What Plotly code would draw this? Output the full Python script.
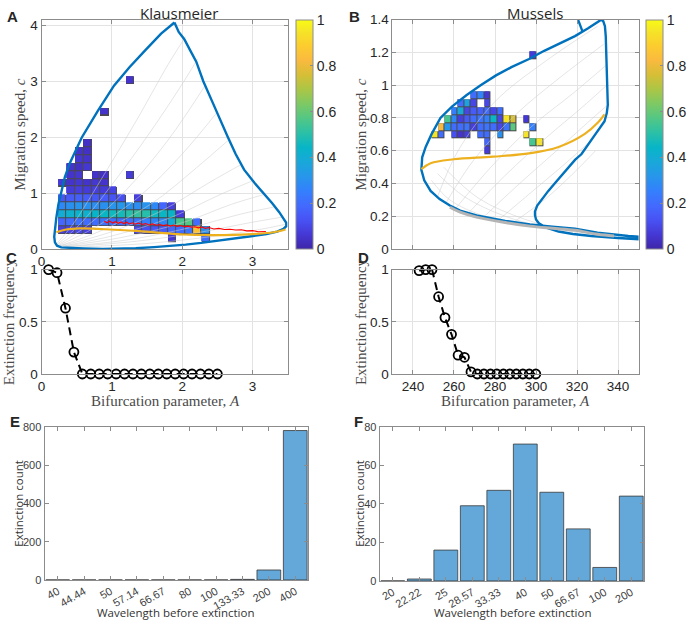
import plotly.graph_objects as go

W, H = 691, 627

# ---------------- colormap (parula-like) ----------------
parula = [
    [0.000, "rgb(62,38,168)"], [0.063, "rgb(69,56,212)"], [0.127, "rgb(72,82,244)"],
    [0.190, "rgb(67,106,254)"], [0.254, "rgb(51,128,253)"], [0.317, "rgb(39,150,235)"],
    [0.381, "rgb(25,168,217)"], [0.444, "rgb(7,181,199)"], [0.508, "rgb(44,192,166)"],
    [0.571, "rgb(83,199,133)"], [0.635, "rgb(126,201,99)"], [0.698, "rgb(172,198,70)"],
    [0.762, "rgb(215,190,54)"], [0.825, "rgb(250,186,63)"], [0.889, "rgb(252,205,46)"],
    [0.952, "rgb(245,229,39)"], [1.000, "rgb(249,251,21)"],
]

# ---------------- Panel A (Klausmeier) ----------------
A_cell_x = [0.295, 0.415, 0.535, 0.655, 0.775, 0.895, 1.015, 1.135, 1.255, 1.375,
            1.495, 1.615, 1.735, 1.855, 1.975, 2.095, 2.215, 2.335]
A_cell_c = [0.199, 0.340, 0.481, 0.622, 0.763, 0.904, 1.045, 1.186, 1.327, 1.468,
            1.609, 1.750, 1.891, 2.032, 2.173, 2.314, 2.455, 2.596, 2.737, 2.878, 3.019]
# (column index, row index, extinction fraction)
A_cells = [
    (8, 20, 0.05), (5, 16, 0.05), (3, 12, 0.04),
    (2, 11, 0.05), (3, 11, 0.04), (2, 10, 0.06), (3, 10, 0.05),
    (1, 9, 0.05), (2, 9, 0.04), (3, 9, 0.06),
    (1, 8, 0.05), (2, 8, 0.06), (4, 8, 0.05), (5, 8, 0.04), (8, 8, 0.07),
    (0, 7, 0.07), (1, 7, 0.05), (2, 7, 0.06), (3, 7, 0.05), (4, 7, 0.06), (5, 7, 0.05),
    (1, 6, 0.07), (2, 6, 0.08), (3, 6, 0.07), (4, 6, 0.08), (5, 6, 0.07), (6, 6, 0.09),
    (0, 5, 0.14), (1, 5, 0.15), (2, 5, 0.16), (3, 5, 0.15), (4, 5, 0.14), (5, 5, 0.15),
    (6, 5, 0.13), (7, 5, 0.12), (9, 5, 0.08),
    (0, 4, 0.28), (1, 4, 0.30), (2, 4, 0.31), (3, 4, 0.30), (4, 4, 0.29), (5, 4, 0.30),
    (6, 4, 0.31), (7, 4, 0.32), (8, 4, 0.30), (9, 4, 0.29), (10, 4, 0.31), (11, 4, 0.28),
    (12, 4, 0.18), (13, 4, 0.08),
    (0, 3, 0.40), (1, 3, 0.42), (2, 3, 0.43), (3, 3, 0.42), (4, 3, 0.44), (5, 3, 0.45),
    (6, 3, 0.46), (7, 3, 0.47), (8, 3, 0.50), (9, 3, 0.52), (10, 3, 0.50), (11, 3, 0.46),
    (12, 3, 0.45), (13, 3, 0.44), (14, 3, 0.07),
    (0, 2, 0.18), (1, 2, 0.20), (2, 2, 0.21), (3, 2, 0.20), (4, 2, 0.20), (5, 2, 0.22),
    (6, 2, 0.21), (7, 2, 0.20), (8, 2, 0.22), (9, 2, 0.23), (10, 2, 0.25), (11, 2, 0.27),
    (12, 2, 0.28), (13, 2, 0.40), (14, 2, 0.55), (15, 2, 0.57), (16, 2, 0.20),
    (0, 1, 0.08), (1, 1, 0.09), (2, 1, 0.10), (3, 1, 0.08),
    (9, 1, 0.10), (10, 1, 0.12), (11, 1, 0.14), (12, 1, 0.15), (13, 1, 0.18),
    (14, 1, 0.20), (15, 1, 0.22), (16, 1, 0.85), (17, 1, 0.30),
    (13, 0, 0.06), (17, 0, 0.20),
]

A_blue_x = [1.89, 1.70, 1.48, 1.25, 1.03, 0.80, 0.57, 0.48, 0.40, 0.33, 0.28, 0.24, 0.21,
            0.19, 0.18, 0.19, 0.22, 0.28, 0.40, 0.60, 0.87, 1.10, 1.34, 1.60, 1.80, 2.05,
            2.27, 2.60, 2.98, 3.20, 3.35, 3.44, 3.48, 3.48, 3.44, 3.38, 3.28, 3.17, 3.03,
            2.88, 2.76, 2.65, 2.54, 2.44, 2.30, 2.20, 2.11, 2.03, 1.95, 1.92, 1.89]
A_blue_c = [4.05, 3.85, 3.56, 3.25, 2.92, 2.47, 1.99, 1.75, 1.53, 1.28, 1.03, 0.80, 0.56,
            0.35, 0.22, 0.12, 0.06, 0.03, 0.02, 0.01, 0.00, 0.005, 0.015, 0.035, 0.05, 0.08,
            0.11, 0.16, 0.23, 0.27, 0.31, 0.36, 0.41, 0.47, 0.55, 0.66, 0.82, 0.98, 1.18,
            1.42, 1.70, 2.00, 2.30, 2.60, 3.00, 3.35, 3.56, 3.75, 3.88, 3.97, 4.05]

A_orange_x = [0.21, 0.35, 0.54, 0.80, 1.05, 1.34, 1.70, 2.02, 2.40, 2.74, 3.05, 3.30, 3.47]
A_orange_c = [0.30, 0.35, 0.37, 0.36, 0.345, 0.325, 0.29, 0.26, 0.25, 0.255, 0.27, 0.30, 0.35]

A_red_x = [0.89, 0.93, 0.97, 1.01, 1.05, 1.09, 1.13, 1.17, 1.21, 1.25, 1.29, 1.33, 1.38,
           1.43, 1.48, 1.53, 1.58, 1.63, 1.68, 1.73, 1.78, 1.83, 1.88, 1.93, 1.98, 2.03,
           2.08, 2.13, 2.18, 2.23, 2.28, 2.33, 2.38, 2.45, 2.52, 2.60, 2.68, 2.76, 2.84,
           2.92, 3.00, 3.08, 3.19]
A_red_c = [0.50, 0.47, 0.50, 0.465, 0.49, 0.46, 0.485, 0.455, 0.48, 0.45, 0.47, 0.445, 0.465,
           0.44, 0.455, 0.43, 0.45, 0.425, 0.44, 0.42, 0.435, 0.41, 0.43, 0.405, 0.42, 0.40,
           0.41, 0.39, 0.40, 0.38, 0.395, 0.37, 0.385, 0.36, 0.37, 0.35, 0.355, 0.34, 0.345,
           0.325, 0.33, 0.31, 0.315]

# faint constant-wavelength curves
A_gray = [
    ([0.22, 0.45, 0.85, 1.35, 1.80, 2.05], [0.10, 0.45, 1.25, 2.30, 3.30, 3.80]),
    ([0.23, 0.55, 1.00, 1.55, 2.00, 2.22], [0.09, 0.45, 1.15, 2.10, 2.95, 3.40]),
    ([0.24, 0.65, 1.20, 1.80, 2.34], [0.08, 0.42, 1.05, 1.95, 2.95]),
    ([0.25, 0.75, 1.40, 2.00, 2.50], [0.07, 0.38, 0.95, 1.70, 2.45]),
    ([0.26, 0.85, 1.55, 2.20, 2.66], [0.06, 0.33, 0.80, 1.45, 1.95]),
    ([0.27, 0.95, 1.70, 2.40, 2.85], [0.06, 0.29, 0.68, 1.20, 1.52]),
    ([0.28, 1.05, 1.85, 2.55, 3.00], [0.05, 0.25, 0.57, 0.98, 1.22]),
    ([0.30, 1.15, 2.00, 2.70, 3.15], [0.05, 0.21, 0.47, 0.80, 0.97]),
    ([0.32, 1.25, 2.10, 2.85, 3.30], [0.04, 0.17, 0.38, 0.63, 0.75]),
    ([0.35, 1.35, 2.25, 3.00, 3.42], [0.04, 0.14, 0.30, 0.48, 0.57]),
    ([0.40, 1.50, 2.40, 3.10, 3.46], [0.03, 0.10, 0.22, 0.35, 0.44]),
]

# ---------------- Panel B (Mussels) ----------------
B_cell_x = [250.6, 253.8, 257.0, 260.2, 263.4, 266.6, 269.8, 273.0, 276.2, 279.4,
            282.6, 285.8, 289.0, 292.2, 295.4, 298.6, 301.8]
B_cell_c = [0.600, 0.649, 0.697, 0.746, 0.794, 0.843, 0.892, 0.940, 0.989, 1.037,
            1.086, 1.135, 1.183]
B_cells = [
    (15, 12, 0.07),
    (6, 7, 0.20), (7, 7, 0.26), (8, 7, 0.06),
    (4, 6, 0.20), (5, 6, 0.36), (6, 6, 0.10), (8, 6, 0.10),
    (3, 5, 0.25), (4, 5, 0.38), (5, 5, 0.10), (6, 5, 0.15), (7, 5, 0.16), (8, 5, 0.20),
    (9, 5, 0.10), (10, 5, 0.20),
    (2, 4, 0.55), (3, 4, 0.28), (4, 4, 0.08), (5, 4, 0.15), (6, 4, 0.20), (7, 4, 0.22),
    (8, 4, 0.25), (9, 4, 0.45), (10, 4, 0.10), (11, 4, 0.95), (12, 4, 0.76), (14, 4, 0.06),
    (1, 3, 0.82), (2, 3, 0.32), (3, 3, 0.20), (4, 3, 0.20), (5, 3, 0.22), (6, 3, 0.08),
    (7, 3, 0.20), (8, 3, 0.22), (9, 3, 0.20), (10, 3, 0.10), (11, 3, 0.22), (12, 3, 0.58),
    (15, 3, 0.25),
    (0, 2, 0.95), (1, 2, 0.20), (3, 2, 0.12), (4, 2, 0.05), (5, 2, 0.08), (7, 2, 0.20),
    (8, 2, 0.20), (10, 2, 0.30), (14, 2, 0.95),
    (8, 1, 0.18), (15, 1, 0.55), (16, 1, 0.95),
    (8, 0, 0.07),
]

B_blue_x = [356, 345, 330, 319, 308, 297, 285, 271, 263, 258, 253, 248.6, 245.5, 244.1,
            244.5, 246.2, 249, 253.4, 259, 266.2, 273, 280.5, 288, 296.6, 304, 312.6, 319,
            325.4, 329, 331, 331.8, 332.8, 333.6, 334.0, 334.3, 334.7, 335.0, 335.0, 334.5,
            333.4, 330, 326, 322.2, 319, 314, 309.4, 306, 303, 300.6, 299.5, 299.5, 300,
            301.4, 305, 311, 318, 327, 340, 356, None, 319.0, 322.6]
B_blue_c = [0.070, 0.080, 0.100, 0.125, 0.137, 0.150, 0.172, 0.205, 0.235, 0.266, 0.305,
            0.355, 0.42, 0.484, 0.56, 0.623, 0.70, 0.80, 0.87, 0.94, 1.00, 1.06, 1.11, 1.16,
            1.21, 1.26, 1.30, 1.348, 1.375, 1.39, 1.40, 1.39, 1.36, 1.30, 1.18, 1.05, 0.93,
            0.88, 0.83, 0.78, 0.72, 0.65, 0.58, 0.544, 0.475, 0.405, 0.355, 0.306, 0.266,
            0.23, 0.207, 0.18, 0.157, 0.13, 0.107, 0.092, 0.080, 0.068, 0.056, None, 1.45, 1.33]

B_gray_main_x = [258, 263, 271, 285, 297, 308, 319, 330, 338]
B_gray_main_c = [0.255, 0.225, 0.195, 0.162, 0.140, 0.127, 0.115, 0.090, 0.080]

B_orange_x = [244.1, 248.6, 259.8, 279.0, 296.6, 311.0, 323.8, 330.2, 333.4]
B_orange_c = [0.488, 0.524, 0.548, 0.564, 0.584, 0.623, 0.703, 0.772, 0.822]

B_gray = [
    ([252, 262, 280, 305, 330], [0.32, 0.60, 0.90, 1.15, 1.36]),
    ([256, 270, 290, 312, 333], [0.28, 0.55, 0.82, 1.05, 1.25]),
    ([261, 278, 298, 318, 334], [0.25, 0.50, 0.75, 0.95, 1.12]),
    ([267, 285, 305, 322, 334.5], [0.22, 0.45, 0.68, 0.86, 1.00]),
    ([274, 292, 310, 325, 335], [0.19, 0.40, 0.60, 0.77, 0.88]),
    ([281, 298, 315, 328, 334], [0.17, 0.35, 0.53, 0.68, 0.78]),
    ([288, 304, 318, 329], [0.155, 0.30, 0.46, 0.60]),
    ([300, 275, 258, 249], [0.13, 0.20, 0.30, 0.42]),
    ([310, 285, 265, 252], [0.115, 0.20, 0.32, 0.46]),
    ([320, 295, 272, 255], [0.10, 0.18, 0.31, 0.50]),
]

# ---------------- Panel C / D ----------------
C_A = [0.10, 0.22, 0.34, 0.46, 0.58, 0.70, 0.82, 0.94, 1.06, 1.18, 1.30, 1.42, 1.54,
       1.66, 1.78, 1.90, 2.02, 2.14, 2.26, 2.38, 2.50]
C_freq = [1.0, 0.97, 0.63, 0.21, 0, 0, 0, 0, 0, 0, 0, 0, 0, 0, 0, 0, 0, 0, 0, 0, 0]

D_A = [243.0, 246.2, 249.3, 252.5, 255.6, 258.8, 262.0, 265.1, 268.3, 271.4, 274.6,
       277.8, 280.9, 284.1, 287.2, 290.4, 293.6, 296.7, 299.9]
D_freq = [0.99, 1.0, 1.0, 0.74, 0.54, 0.38, 0.18, 0.16, 0.02, 0, 0, 0, 0, 0, 0, 0, 0, 0, 0]

# ---------------- Panel E / F ----------------
E_cats = ["40", "44.44", "50", "57.14", "66.67", "80", "100", "133.33", "200", "400"]
E_counts = [0, 0, 0, 0, 0, 0, 0, 3, 52, 780]
F_cats = ["20", "22.22", "25", "28.57", "33.33", "40", "50", "66.67", "100", "200"]
F_counts = [0, 1, 16, 39, 47, 71, 46, 27, 7, 44]

# =========================================================
def fx(p):
    return p / W


def fy(p):
    return 1 - p / H


BLUE = "rgb(0,114,189)"
ORANGE = "rgb(237,177,32)"
AXC = "#8c8c8c"
GRID = "#e3e3e3"
TICKC = "#262626"
SANS = "Liberation Sans, Arial, sans-serif"
SERIF = "Liberation Serif, Times New Roman, serif"

fig = go.Figure()


def grid_z(cells, nx, ny, uniform=None):
    z = [[None] * nx for _ in range(ny)]
    for (i, j, v) in cells:
        z[j][i] = v if uniform is None else uniform
    return z


def add_cells(xs, ys, cells, ax, cax):
    zb = grid_z(cells, len(xs), len(ys), uniform=1)
    zc = grid_z(cells, len(xs), len(ys))
    fig.add_trace(go.Heatmap(x=xs, y=ys, z=zb, colorscale=[[0, "#4a4a4a"], [1, "#4a4a4a"]],
                             showscale=False, hoverinfo="skip", xaxis="x" + ax, yaxis="y" + ax))
    fig.add_trace(go.Heatmap(x=xs, y=ys, z=zc, coloraxis=cax, xgap=1, ygap=1,
                             xaxis="x" + ax, yaxis="y" + ax))


# ---- A
add_cells(A_cell_x, A_cell_c, A_cells, "", "coloraxis")
for gx, gc in A_gray:
    fig.add_trace(go.Scatter(x=gx, y=gc, mode="lines", line=dict(color="rgba(205,205,205,0.75)", width=0.7, shape="spline"),
                             xaxis="x", yaxis="y", hoverinfo="skip"))
fig.add_trace(go.Scatter(x=A_blue_x, y=A_blue_c, mode="lines", line=dict(color=BLUE, width=2.4),
                         xaxis="x", yaxis="y"))
fig.add_trace(go.Scatter(x=A_orange_x, y=A_orange_c, mode="lines", line=dict(color=ORANGE, width=2.2, shape="spline"),
                         xaxis="x", yaxis="y"))
fig.add_trace(go.Scatter(x=A_red_x, y=A_red_c, mode="lines", line=dict(color="red", width=1.1),
                         xaxis="x", yaxis="y"))

# ---- B
add_cells(B_cell_x, B_cell_c, B_cells, "2", "coloraxis2")
for gx, gc in B_gray:
    fig.add_trace(go.Scatter(x=gx, y=gc, mode="lines", line=dict(color="rgba(205,205,205,0.75)", width=0.7, shape="spline"),
                             xaxis="x2", yaxis="y2", hoverinfo="skip"))
fig.add_trace(go.Scatter(x=B_blue_x, y=B_blue_c, mode="lines", line=dict(color=BLUE, width=2.4),
                         xaxis="x2", yaxis="y2", connectgaps=False))
fig.add_trace(go.Scatter(x=B_gray_main_x, y=B_gray_main_c, mode="lines", line=dict(color="#b4b4b4", width=3.0, shape="spline"),
                         xaxis="x2", yaxis="y2"))
fig.add_trace(go.Scatter(x=B_orange_x, y=B_orange_c, mode="lines", line=dict(color=ORANGE, width=2.2, shape="spline"),
                         xaxis="x2", yaxis="y2"))

# ---- C / D
for xs, ys, ax in [(C_A, C_freq, "3"), (D_A, D_freq, "4")]:
    fig.add_trace(go.Scatter(x=xs, y=ys, mode="lines+markers",
                             line=dict(color="black", width=2, dash="8px,5px"),
                             marker=dict(symbol="circle-open", size=9, color="black", line=dict(width=1.8)),
                             xaxis="x" + ax, yaxis="y" + ax, cliponaxis=False))

# ---- E / F
BAR = "rgb(99,168,216)"
fig.add_trace(go.Bar(x=E_cats, y=E_counts, marker=dict(color=BAR, line=dict(color="#3a3a3a", width=0.8)),
                     width=0.9, xaxis="x5", yaxis="y5"))
fig.add_trace(go.Bar(x=F_cats, y=F_counts, marker=dict(color=BAR, line=dict(color="#3a3a3a", width=0.8)),
                     width=0.9, xaxis="x6", yaxis="y6"))

# ---------------- layout ----------------
tf = dict(family=SANS, size=13.5, color=TICKC)
tf_small = dict(family=SANS, size=11, color="#404040")


def ax_common(**kw):
    d = dict(showline=True, linecolor=AXC, linewidth=1, mirror="ticks", ticks="inside",
             ticklen=4, tickcolor=AXC, zeroline=False, tickfont=tf, showgrid=True,
             gridcolor=GRID, gridwidth=1)
    d.update(kw)
    return d


xA = [fx(38), fx(287)]
xB = [fx(393), fx(642)]
yTop = [fy(248), fy(13)]
yMid = [fy(376), fy(269)]

layout = dict(
    width=W, height=H, margin=dict(l=0, r=0, t=0, b=0),
    paper_bgcolor="white", plot_bgcolor="white", showlegend=False,
    xaxis=ax_common(domain=xA, anchor="y", range=[0, 3.5], tickvals=[0, 1, 2, 3]),
    yaxis=ax_common(domain=yTop, anchor="x", range=[0, 4.1], tickvals=[0, 1, 2, 3, 4]),
    xaxis2=ax_common(domain=xB, anchor="y2", range=[230, 350], tickvals=[240, 260, 280, 300, 320, 340], showticklabels=False),
    yaxis2=ax_common(domain=yTop, anchor="x2", range=[0, 1.4], tickvals=[0, 0.2, 0.4, 0.6, 0.8, 1, 1.2, 1.4],
                     ticktext=["0", "0.2", "0.4", "0.6", "0.8", "1", "1.2", "1.4"]),
    xaxis3=ax_common(domain=xA, anchor="y3", range=[0, 3.5], tickvals=[0, 1, 2, 3]),
    yaxis3=ax_common(domain=yMid, anchor="x3", range=[0, 1], tickvals=[0, 0.5, 1]),
    xaxis4=ax_common(domain=xB, anchor="y4", range=[230, 350], tickvals=[240, 260, 280, 300, 320, 340]),
    yaxis4=ax_common(domain=yMid, anchor="x4", range=[0, 1], tickvals=[0, 0.5, 1]),
    xaxis5=ax_common(domain=[fx(41), fx(308)], anchor="y5", type="category", range=[-0.5, 9.5],
                     tickangle=-30, tickfont=tf_small, showgrid=False),
    yaxis5=ax_common(domain=[fy(587), fy(430)], anchor="x5", range=[0, 800], tickvals=[0, 200, 400, 600, 800],
                     tickfont=tf_small, showgrid=False),
    xaxis6=ax_common(domain=[fx(380), fx(648)], anchor="y6", type="category", range=[-0.5, 9.5],
                     tickangle=-30, tickfont=tf_small, showgrid=False),
    yaxis6=ax_common(domain=[fy(588), fy(430)], anchor="x6", range=[0, 80], tickvals=[0, 20, 40, 60, 80],
                     tickfont=tf_small, showgrid=False),
    bargap=0.1,
)

cb_common = dict(thickness=17, lenmode="fraction", len=235 / H, y=fy(248), yanchor="bottom",
                 xanchor="left", xpad=0, ypad=0, outlinecolor=AXC, outlinewidth=1,
                 ticks="inside", ticklen=3, tickcolor=AXC, tickfont=dict(family=SANS, size=14, color=TICKC),
                 tickvals=[0, 0.2, 0.4, 0.6, 0.8, 1], ticktext=["0", "0.2", "0.4", "0.6", "0.8", "1"])
layout["coloraxis"] = dict(colorscale=parula, cmin=0, cmax=1, colorbar=dict(x=fx(295), **cb_common))
layout["coloraxis2"] = dict(colorscale=parula, cmin=0, cmax=1, colorbar=dict(x=fx(650), **cb_common))

ann = []


def txt(t, x, y, size, family=SANS, bold=False, angle=0, xanchor="center", yanchor="middle", color=TICKC):
    if bold:
        t = "<b>" + t + "</b>"
    ann.append(dict(text=t, x=fx(x), y=fy(y), xref="paper", yref="paper", showarrow=False,
                    font=dict(family=family, size=size, color=color), textangle=angle,
                    xanchor=xanchor, yanchor=yanchor))


# panel letters
txt("A", 1, -1, 15, bold=True, xanchor="left", yanchor="top")
txt("B", 347, -1, 15, bold=True, xanchor="left", yanchor="top")
txt("C", 0, 246, 15, bold=True, xanchor="left", yanchor="top")
txt("D", 356, 246, 15, bold=True, xanchor="left", yanchor="top")
txt("E", 4, 414, 15, bold=True, xanchor="left", yanchor="top")
txt("F", 352, 414, 15, bold=True, xanchor="left", yanchor="top")
# titles
txt("Klausmeier", 177, 6, 15, family="Open Sans, sans-serif")
txt("Mussels", 537, 6, 15, family="Open Sans, sans-serif")
# axis titles
serif_c = "#4a4a4a"
txt("Migration speed, <i>c</i>", 16, 131, 15, family=SERIF, angle=-90, color=serif_c)
txt("Migration speed, <i>c</i>", 361, 131, 15, family=SERIF, angle=-90, color=serif_c)
txt("Extinction frequency", 5, 322, 15, family=SERIF, angle=-90, color=serif_c)
txt("Extinction frequency", 361, 322, 15, family=SERIF, angle=-90, color=serif_c)
txt("Bifurcation parameter, <i>A</i>", 163, 404, 15, family=SERIF, color=serif_c)
txt("Bifurcation parameter, <i>A</i>", 517, 404, 15, family=SERIF, color=serif_c)
txt("Extinction count", 15, 508, 11.5, family="Open Sans, sans-serif", angle=-90, color="#333")
txt("Extinction count", 360, 508, 11.5, family="Open Sans, sans-serif", angle=-90, color="#333")
txt("Wavelength before extinction", 174, 620, 11.5, family="Open Sans, sans-serif", color="#333")
txt("Wavelength before extinction", 514, 620, 11.5, family="Open Sans, sans-serif", color="#333")

layout["annotations"] = ann
fig.update_layout(**layout)
fig.write_html("out.html")
